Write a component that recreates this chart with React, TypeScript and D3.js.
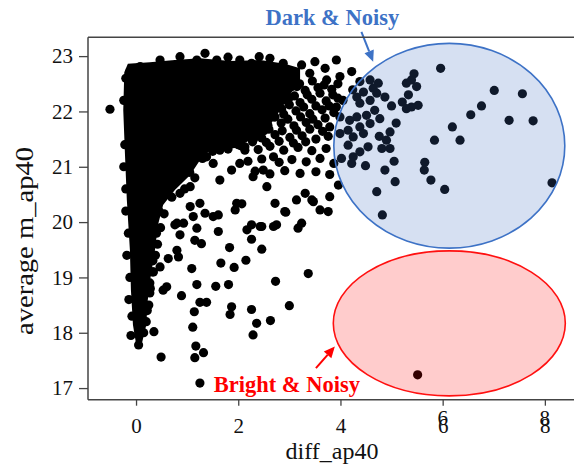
import { useEffect, useRef } from 'react';
import * as d3 from 'd3';

// outline of the solid core where the points overlap completely
const coreOutline: [number, number][] = [
  [-0.23, 22.71], [-0.16, 22.86], [0.27, 22.89], [0.76, 22.93], [1.25, 22.96],
  [1.84, 22.91], [2.43, 22.93], [2.91, 22.86], [3.21, 22.78], [3.21, 22.57],
  [3.01, 22.3], [2.82, 22.02], [2.62, 21.75], [2.23, 21.48], [1.94, 21.34],
  [1.45, 21.3], [1.25, 21.12], [1.06, 20.85], [0.76, 20.58], [0.53, 20.31],
  [0.43, 19.95], [0.37, 19.49], [0.29, 19.04], [0.23, 18.59], [0.2, 18.14],
  [0.12, 17.83], [0.0, 17.8], [-0.06, 18.14], [-0.1, 18.77], [-0.12, 19.49],
  [-0.18, 20.4], [-0.22, 21.3], [-0.25, 22.02],
];

// individual samples (diff_ap40, average m_ap40)
const edgePoints: [number, number][] = [
  [-0.51, 22.04],
  [0.86, 22.99], [1.35, 23.05], [1.19, 22.93], [1.58, 22.93], [2.03, 22.93], [2.41, 22.99],
  [2.26, 22.87], [0.08, 22.81], [-0.12, 22.72], [0.47, 22.93], [1.8, 22.98], [2.62, 22.96],
  [0.45, 20.2], [0.4, 19.8], [0.33, 19.3], [0.27, 18.9], [0.22, 18.4], [0.15, 18.0],
  [0.05, 17.78], [-0.08, 18.3], [-0.12, 19.0], [-0.15, 19.8], [-0.2, 20.6], [-0.22, 21.4],
  [-0.24, 22.2], [-0.2, 22.6],
  [1.05, 20.9], [1.3, 21.15], [1.6, 21.35], [2.0, 21.4], [2.4, 21.6], [2.7, 21.9],
  [2.95, 22.2], [3.1, 22.55],
  [3.15, 22.45], [3.0, 22.25], [2.85, 22.05], [2.5, 21.65], [2.3, 21.5], [2.05, 21.38],
  [1.8, 21.32], [1.5, 21.28], [1.15, 20.8], [0.95, 20.6], [0.7, 20.45], [0.55, 20.15],
  [0.48, 19.9], [0.42, 19.6], [0.38, 19.4], [0.32, 19.1], [0.28, 18.8], [0.25, 18.5],
  [0.2, 18.2], [-0.1, 17.95], [-0.14, 18.6], [-0.18, 19.4], [-0.2, 20.2], [-0.24, 21.0],
];

const midPoints: [number, number][] = [
  [2.88, 22.87], [3.24, 22.84], [3.5, 22.9], [3.92, 22.93], [4.22, 22.72], [3.7, 22.78],
  [2.56, 22.63], [2.82, 22.69], [3.08, 22.63], [3.4, 22.69], [3.73, 22.57], [3.99, 22.63],
  [2.65, 22.55], [2.95, 22.52], [3.2, 22.5], [3.45, 22.55], [3.68, 22.48], [3.95, 22.5],
  [2.52, 22.44], [2.78, 22.4], [3.05, 22.45], [3.31, 22.38], [3.56, 22.43], [3.83, 22.4],
  [2.6, 22.3], [2.85, 22.32], [3.1, 22.28], [3.35, 22.3], [3.6, 22.33], [3.85, 22.3],
  [2.46, 22.22], [2.72, 22.18], [2.97, 22.24], [3.21, 22.16], [3.44, 22.22], [3.72, 22.19], [3.95, 22.24],
  [2.5, 22.1], [2.75, 22.08], [3.0, 22.12], [3.28, 22.08], [3.52, 22.1], [3.78, 22.1],
  [2.39, 21.97], [2.62, 22.02], [2.89, 21.95], [3.13, 22.01], [3.4, 21.96], [3.64, 22.03], [3.87, 21.98],
  [2.48, 21.88], [2.72, 21.9], [2.97, 21.86], [3.22, 21.9], [3.46, 21.86], [3.7, 21.88],
  [2.35, 21.8], [2.58, 21.75], [2.84, 21.79], [3.09, 21.74], [3.33, 21.8], [3.56, 21.76], [3.79, 21.72],
  [2.35, 21.66], [2.6, 21.68], [2.86, 21.65], [3.14, 21.66], [3.4, 21.68], [3.65, 21.64],
  [2.23, 21.57], [2.46, 21.52], [2.72, 21.58], [3.01, 21.53], [3.25, 21.56], [3.52, 21.5], [3.76, 21.55],
  [2.28, 21.45], [2.55, 21.44], [2.8, 21.46], [3.08, 21.43], [3.32, 21.45],
  [2.13, 21.36], [2.39, 21.31], [2.62, 21.37], [2.89, 21.3], [3.17, 21.35], [3.44, 21.29], [3.72, 21.33],
  [2.19, 21.1], [2.46, 21.14], [2.8, 21.08], [3.05, 21.13], [3.33, 21.09], [3.6, 21.15], [3.87, 21.06],
  [2.33, 20.92], [2.62, 20.87], [2.91, 20.93], [3.21, 20.88], [3.52, 20.91], [3.79, 20.86],
  [1.38, 21.18], [1.51, 21.06], [1.64, 20.76], [1.87, 20.94], [2.03, 21.06], [2.29, 20.82],
  [2.49, 20.94], [2.69, 21.18], [1.97, 20.34], [1.06, 20.64], [0.86, 20.52], [1.25, 20.34],
  [0.8, 19.98], [1.12, 20.1], [1.51, 20.1], [2.69, 19.92], [2.46, 19.92], [2.17, 19.86],
  [1.64, 21.3], [2.13, 21.3], [1.74, 21.48],
  [2.56, 20.64], [2.72, 20.34], [2.91, 20.19], [3.14, 20.4], [3.31, 20.52], [3.44, 20.4],
  [3.6, 20.22], [3.76, 20.19], [3.79, 20.46], [3.96, 20.67], [3.24, 19.98], [2.43, 19.92],
];

const lowPoints: [number, number][] = [
  [1.06, 20.28], [1.35, 20.16], [1.61, 20.13], [1.94, 20.22], [2.07, 20.33], [2.93, 20.18],
  [3.47, 20.37], [0.76, 19.95], [0.93, 19.98], [1.19, 19.89], [0.86, 19.77], [1.61, 19.83],
  [2.26, 19.95], [2.75, 19.95], [3.17, 19.89], [1.15, 19.67], [1.28, 19.61], [2.26, 19.69],
  [2.46, 19.51], [1.83, 19.54], [0.8, 19.49], [0.83, 19.37], [0.63, 19.34], [0.47, 19.19],
  [0.34, 19.1], [1.09, 19.16], [1.66, 19.26], [1.92, 19.18], [2.15, 19.31], [3.37, 19.07],
  [1.19, 18.87], [1.56, 18.84], [1.81, 18.87], [2.73, 18.93], [0.27, 18.72], [0.53, 18.77],
  [0.6, 18.83], [0.89, 18.67], [1.25, 18.55], [1.38, 18.55], [1.87, 18.47], [1.84, 18.33],
  [2.26, 18.42], [2.63, 18.22], [3.0, 18.49], [2.36, 18.17], [1.14, 18.38], [1.11, 18.1],
  [2.29, 17.96], [0.35, 18.02], [1.17, 17.76], [1.32, 17.64], [1.15, 17.55], [0.49, 17.56],
  [1.25, 17.09], [5.51, 17.24],
];

const noisyPoints: [number, number][] = [
  [4.74, 22.51], [4.64, 22.42], [4.58, 22.57], [4.71, 22.33], [4.87, 22.26], [4.45, 22.35],
  [4.32, 22.26], [4.38, 22.15], [4.58, 22.2], [4.67, 22.02], [4.51, 21.93], [4.32, 21.9],
  [4.18, 21.84], [4.38, 21.72], [4.58, 21.78], [4.77, 21.87], [3.99, 21.6], [4.15, 21.66],
  [4.25, 21.54], [4.45, 21.6], [3.92, 22.08], [4.05, 22.2], [3.99, 21.9], [4.54, 21.36],
  [4.38, 21.27], [4.25, 21.18], [4.15, 21.39], [4.02, 21.15], [4.22, 21.06], [4.76, 21.55],
  [4.9, 21.48], [4.97, 21.33], [4.81, 21.33], [4.97, 21.63], [5.09, 21.79], [5.0, 22.1],
  [5.21, 22.17], [5.52, 22.11], [5.39, 22.08], [5.29, 22.05], [5.33, 22.3], [5.44, 22.68],
  [5.39, 22.57], [5.49, 22.45], [5.29, 22.51], [4.38, 22.54], [4.24, 22.39],
  [4.49, 21.02], [4.87, 20.94], [5.05, 21.1], [5.07, 20.73], [4.71, 20.55], [4.82, 20.13],
  [5.96, 22.78], [7.01, 22.38], [7.56, 22.32], [6.76, 22.1], [6.55, 21.94], [7.3, 21.84],
  [7.77, 21.83], [6.19, 21.72], [5.84, 21.48], [6.34, 21.48], [5.65, 21.08], [5.64, 20.94],
  [5.77, 20.76], [6.04, 20.59], [8.14, 20.71],
];

const xTicks = [0, 2, 4, 6, 8];
const xGhostTicks = [6, 8];
const yTicks = [17, 18, 19, 20, 21, 22, 23];

const App = () => {
  const svgRef = useRef<SVGSVGElement>(null);

  useEffect(() => {
    const W = 574;
    const H = 466;
    const margin = { top: 37.3, right: 0, bottom: H - 399.7, left: 88 };

    const svg = d3.select(svgRef.current);
    svg.selectAll('*').remove();
    svg.attr('width', W).attr('height', H);

    const x = d3.scaleLinear().domain([-0.94, 8.57]).range([margin.left, W - margin.right]);
    const y = d3.scaleLinear().domain([16.79, 23.34]).range([H - margin.bottom, margin.top]);

    const font = '"Liberation Serif", "Times New Roman", serif';

    // 核心密集區
    const line = d3
      .line<[number, number]>()
      .x((d) => x(d[0]))
      .y((d) => y(d[1]))
      .curve(d3.curveLinearClosed);
    svg.append('path').attr('d', line(coreOutline)).attr('fill', '#000');

    const all = [...edgePoints, ...midPoints, ...lowPoints, ...noisyPoints];
    svg
      .append('g')
      .selectAll('circle')
      .data(all)
      .join('circle')
      .attr('cx', (d) => x(d[0]))
      .attr('cy', (d) => y(d[1]))
      .attr('r', 4.6)
      .attr('fill', '#000');

    // 橢圓標註
    const ellipse = (cx, cy, rx, ry, fill, stroke) =>
      svg
        .append('ellipse')
        .attr('cx', x(cx))
        .attr('cy', y(cy))
        .attr('rx', x(cx + rx) - x(cx))
        .attr('ry', y(cy) - y(cy + ry))
        .attr('fill', fill)
        .attr('stroke', stroke)
        .attr('stroke-width', 1.6);
    ellipse(6.13, 21.38, 2.26, 1.85, 'rgba(68,114,196,0.22)', '#3d72c6');
    ellipse(6.13, 18.17, 2.27, 1.31, 'rgba(255,0,0,0.2)', '#ff1010');

    // 箭頭
    const arrow = (x1, y1, x2, y2, color) => {
      const px1 = x(x1), py1 = y(y1), px2 = x(x2), py2 = y(y2);
      const ang = Math.atan2(py2 - py1, px2 - px1);
      const len = 11, wid = 5;
      const bx = px2 - len * Math.cos(ang), by = py2 - len * Math.sin(ang);
      svg
        .append('line')
        .attr('x1', px1).attr('y1', py1).attr('x2', bx).attr('y2', by)
        .attr('stroke', color).attr('stroke-width', 2);
      svg
        .append('path')
        .attr(
          'd',
          `M${px2},${py2}L${bx + wid * Math.sin(ang)},${by - wid * Math.cos(ang)}L${bx - wid * Math.sin(ang)},${by + wid * Math.cos(ang)}Z`
        )
        .attr('fill', color);
    };
    arrow(4.41, 23.44, 4.64, 22.9, '#3d72c6');
    arrow(3.52, 17.36, 3.89, 17.75, '#ff0000');

    svg
      .append('text')
      .attr('x', x(3.84))
      .attr('y', y(23.56))
      .attr('text-anchor', 'middle')
      .attr('fill', '#3d72c6')
      .style('font-family', font)
      .style('font-weight', 'bold')
      .style('font-size', '22.5px')
      .text('Dark & Noisy');

    svg
      .append('text')
      .attr('x', x(2.95))
      .attr('y', y(16.93))
      .attr('text-anchor', 'middle')
      .attr('fill', '#ff0000')
      .style('font-family', font)
      .style('font-weight', 'bold')
      .style('font-size', '22.5px')
      .text('Bright & Noisy');

    // 軸線
    const spine = '#444';
    const y0 = H - margin.bottom;
    svg.append('line').attr('x1', margin.left).attr('x2', W).attr('y1', margin.top).attr('y2', margin.top)
      .attr('stroke', spine).attr('stroke-width', 1.5);
    svg.append('line').attr('x1', margin.left).attr('x2', W).attr('y1', y0).attr('y2', y0)
      .attr('stroke', spine).attr('stroke-width', 1.5);
    svg.append('line').attr('x1', margin.left).attr('x2', margin.left).attr('y1', margin.top).attr('y2', y0)
      .attr('stroke', spine).attr('stroke-width', 1.5);

    const gx = svg
      .append('g')
      .attr('transform', `translate(0,${y0})`)
      .call(d3.axisBottom(x).tickValues(xTicks).tickSize(6).tickPadding(12).tickFormat(d3.format('d')));
    gx.select('.domain').remove();
    gx.selectAll('line').attr('stroke', spine).attr('stroke-width', 1.3);
    gx.selectAll('text').style('font-family', font).style('font-size', '21px').attr('fill', '#111');

    // 重疊的刻度字
    svg
      .append('g')
      .selectAll('text')
      .data(xGhostTicks)
      .join('text')
      .attr('x', (d) => x(d))
      .attr('y', y0 + 25)
      .attr('text-anchor', 'middle')
      .attr('fill', '#111')
      .style('font-family', font)
      .style('font-size', '21px')
      .text((d) => d);

    const gy = svg
      .append('g')
      .attr('transform', `translate(${margin.left},0)`)
      .call(d3.axisLeft(y).tickValues(yTicks).tickSize(9).tickPadding(6).tickFormat(d3.format('d')));
    gy.select('.domain').remove();
    gy.selectAll('line').attr('stroke', spine).attr('stroke-width', 1.3);
    gy.selectAll('text').style('font-family', font).style('font-size', '21px').attr('fill', '#111');

    svg
      .append('text')
      .attr('x', (margin.left + 450) / 2 + 63)
      .attr('y', 459)
      .attr('text-anchor', 'middle')
      .attr('fill', '#111')
      .style('font-family', font)
      .style('font-size', '24px')
      .text('diff_ap40');

    svg
      .append('text')
      .attr('transform', `translate(33,${241}) rotate(-90)`)
      .attr('text-anchor', 'middle')
      .attr('fill', '#111')
      .attr('textLength', 188)
      .attr('lengthAdjust', 'spacingAndGlyphs')
      .style('font-family', font)
      .style('font-size', '25px')
      .text('average m_ap40');
  }, []);

  return (
    <div style={{ position: 'absolute', left: 0, top: 0, width: 574, height: 466, background: '#fff' }}>
      <svg ref={svgRef} style={{ display: 'block' }}></svg>
    </div>
  );
};

export default App;
